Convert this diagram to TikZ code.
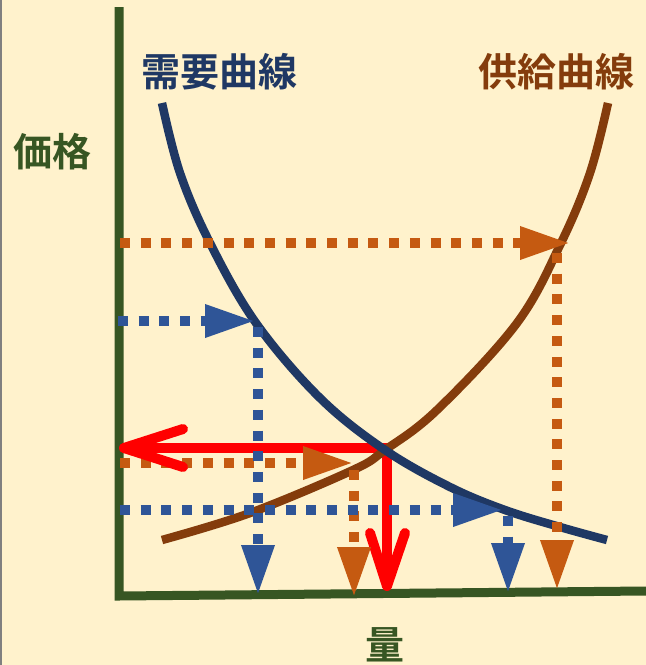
\documentclass[tikz,border=0pt]{standalone}
\usepackage{fontspec}
\newfontfamily\jp[BoldFont={Noto Sans CJK JP Bold}]{Noto Sans CJK JP}
\usetikzlibrary{arrows.meta}
\definecolor{bg}{HTML}{FFF2CC}
\definecolor{axisgreen}{HTML}{375623}
\definecolor{demandc}{HTML}{1F3864}
\definecolor{supplyc}{HTML}{843C0C}
\definecolor{dotorange}{HTML}{C55A11}
\definecolor{dotblue}{HTML}{2F5597}
\definecolor{redc}{HTML}{FF0000}
\tikzset{
  axisline/.style={draw=axisgreen, line width=9pt, line join=miter},
  curveline/.style={line width=8.5pt},
  dotline/.style={line width=9.5pt, dash pattern=on 10pt off 10.7pt},
  tri/.style={-{Triangle[length=50pt,width=31pt]}},
  orangedot/.style={dotline, draw=dotorange, color=dotorange, tri},
  bluedot/.style={dotline, draw=dotblue, color=dotblue, tri},
  redline/.style={draw=redc, line width=10pt, line cap=round, line join=round},
  lbl/.style={font=\jp\bfseries\fontsize{39pt}{40pt}\selectfont, inner sep=0pt}
}
\begin{document}
\begin{tikzpicture}[x=1pt,y=-1pt]
\fill[bg] (0,0) rectangle (646,665);
\useasboundingbox (0,0) rectangle (646,665);
\draw[gray, line width=1.5pt] (0.75,0) -- (0.75,665);
% axes
\coordinate (ytop) at (119,7);
\coordinate (origin) at (119,596);
\coordinate (xend) at (646,591);
\draw[axisline] (ytop) -- (origin) -- (xend);
% labels
\node[lbl, text=demandc] (dlabel) at (219,72) {需要曲線};
\node[lbl, text=supplyc] (slabel) at (556,72) {供給曲線};
\node[lbl, text=axisgreen] (plabel) at (52,152) {価格};
\node[lbl, text=axisgreen] (qlabel) at (385,645) {量};
% red arrows (shafts)
\coordinate (eq) at (387,448);
\coordinate (rtip) at (124,448);
\coordinate (rb1) at (183,429);
\coordinate (rb2) at (183,467);
\coordinate (dtip) at (387,586);
\coordinate (db1) at (370,533);
\coordinate (db2) at (405,533);
\draw[redline, line join=miter] (rtip) -- (eq) -- (dtip);
\draw[redline] (db1) -- (dtip) -- (db2);
% curves
\draw[curveline, draw=supplyc] plot[smooth, tension=0.6] coordinates
  {(162,540) (250,513) (353,470) (385,450) (437,410) (517,323) (561,243) (590,173) (608,103)};
\draw[curveline, draw=demandc] plot[smooth, tension=0.6] coordinates
  {(162,103) (180,173) (210,243) (256,323) (320,398) (385,450) (450,487) (505,510) (560,527) (607,540)};
% orange dotted
\coordinate (o1s) at (120,243);
\coordinate (o1t) at (570,243);
\coordinate (o1v) at (557,253);
\coordinate (o1b) at (557,590);
\draw[orangedot] (o1s) -- (o1t);
\draw[orangedot] (o1v) -- (o1b);
\coordinate (o2s) at (120,463);
\coordinate (o2t) at (353,463);
\coordinate (o2v) at (354,470);
\coordinate (o2b) at (354,597);
\draw[orangedot] (o2s) -- (o2t);
\draw[orangedot] (o2v) -- (o2b);
% red left arrow head (over the orange dots)
\draw[redline] (rb1) -- (rtip) -- (rb2);
% blue dotted
\coordinate (b1s) at (118,321);
\coordinate (b1t) at (255,321);
\coordinate (b1v) at (258,327);
\coordinate (b1b) at (258,595);
\draw[bluedot] (b1s) -- (b1t);
\draw[bluedot] (b1v) -- (b1b);
\coordinate (b2s) at (120,510);
\coordinate (b2t) at (503,510);
\coordinate (b2v) at (508,516);
\coordinate (b2b) at (508,593);
\draw[bluedot] (b2s) -- (b2t);
\draw[bluedot] (b2v) -- (b2b);
\end{tikzpicture}
\end{document}
